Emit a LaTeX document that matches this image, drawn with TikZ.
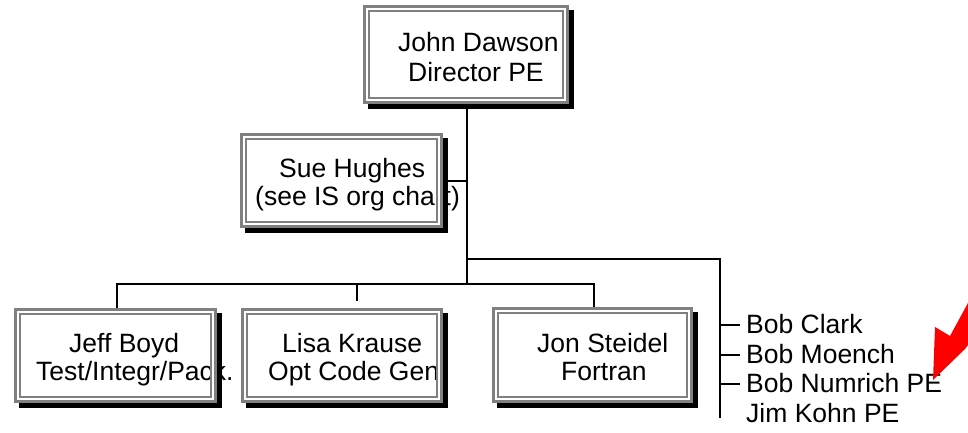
\documentclass[tikz,border=0pt]{standalone}
\usepackage{fontspec}
\setmainfont{Liberation Sans}
\usetikzlibrary{shadows}
\definecolor{framegray}{RGB}{128,128,128}
\definecolor{arrowred}{RGB}{255,0,0}
\begin{document}
\begin{tikzpicture}[x=1pt,y=-1pt,
  card/.style={rectangle, fill=white, inner sep=0pt, anchor=north west,
    general shadow={fill=black, shadow xshift=4.5pt, shadow yshift=-4.5pt}},
  lbl/.style={anchor=base west, inner sep=0pt, font=\fontsize{26.5}{30}\selectfont},
  member/.style={anchor=base west, inner xsep=6pt, inner ysep=0pt,
    text height=19pt, text depth=3pt, font=\fontsize{26.5}{30}\selectfont},
  link/.style={draw=black, line width=2pt},
  outerband/.style={draw=framegray, line width=3.3pt},
  gapband/.style={draw=white, line width=1.7pt},
  innerline/.style={draw=framegray, line width=2pt}]
\useasboundingbox (0,0) rectangle (968,433);
\fill[white] (0,0) rectangle (968,433);

% junction points of the connector tree
\coordinate (jt) at (467,285);
\coordinate (br) at (720,259);
\coordinate (brend) at (720,418);
\coordinate (busW) at (117,284);
\coordinate (busE) at (594,284);
\coordinate (lisatick) at (357,301);

% boxes (white face with black drop shadow)
\node[card, minimum width=206pt, minimum height=99pt] (john) at (363,5) {};
\node[card, minimum width=203pt, minimum height=95pt] (sue) at (240,133) {};
\node[card, minimum width=203pt, minimum height=95pt] (jeff) at (14,308) {};
\node[card, minimum width=202pt, minimum height=95pt] (lisa) at (241,308) {};
\node[card, minimum width=201pt, minimum height=96pt] (jon) at (492,307) {};

% connectors
\draw[link] (jt |- john.south) -- (jt);
\draw[link, line width=1.6pt] (sue.east) -- (sue.east -| jt);
\draw[link] (jeff.north -| busW) -- (busW) -- (busE) -- (jon.north -| busE);
\draw[link] (lisatick |- busW) -- (lisatick);
\draw[link] (jt |- br) -- (br) -- (brend);

% box texts
\node[lbl] (john1) at (398,52) {John Dawson};
\node[lbl] (john2) at (408,82) {Director PE};
\node[lbl] (sue1) at (279,177) {Sue Hughes};
\node[lbl] (sue2) at (255,205) {(see IS org chart)};
\node[lbl] (jeff1) at (69,352) {Jeff Boyd};
\node[lbl] (jeff2) at (36,380) {Test/Integr/Pack.};
\node[lbl] (lisa1) at (282,352) {Lisa Krause};
\node[lbl] (lisa2) at (268,380) {Opt Code Gen};
\node[lbl] (jon1) at (537,352) {Jon Steidel};
\node[lbl] (jon2) at (561,380) {Fortran};

% double frames, drawn over the texts
\foreach \b in {john,sue,jeff,lisa,jon}{
  \draw[outerband] ([shift={(1.65pt,-1.65pt)}]\b.north west) rectangle ([shift={(-1.65pt,1.65pt)}]\b.south east);
  \draw[gapband] ([shift={(4.15pt,-4.15pt)}]\b.north west) rectangle ([shift={(-4.15pt,4.15pt)}]\b.south east);
  \draw[innerline] ([shift={(6pt,-6pt)}]\b.north west) rectangle ([shift={(-6pt,6pt)}]\b.south east);
}

% staff list on the right branch
\node[member] (clark) at (740,333) {Bob Clark};
\node[member] (moench) at (740,363) {Bob Moench};
\node[member] (numrich) at (740,392) {Bob Numrich PE};
\node[member] (kohn) at (740,422) {Jim Kohn PE};
\draw[link] (clark.west -| br) -- (clark.west);
\draw[link] (moench.west -| br) -- (moench.west);
\draw[link] (numrich.west -| br) -- (numrich.west);

% red pointer arrow, running off the right edge
\begin{scope}
\clip (0,0) rectangle (968,433);
\fill[arrowred] (933,380) -- (935,327) -- (950,336) -- (968,303)
  -- (968,345) -- (965,349) -- cycle;
\end{scope}
\end{tikzpicture}
\end{document}
